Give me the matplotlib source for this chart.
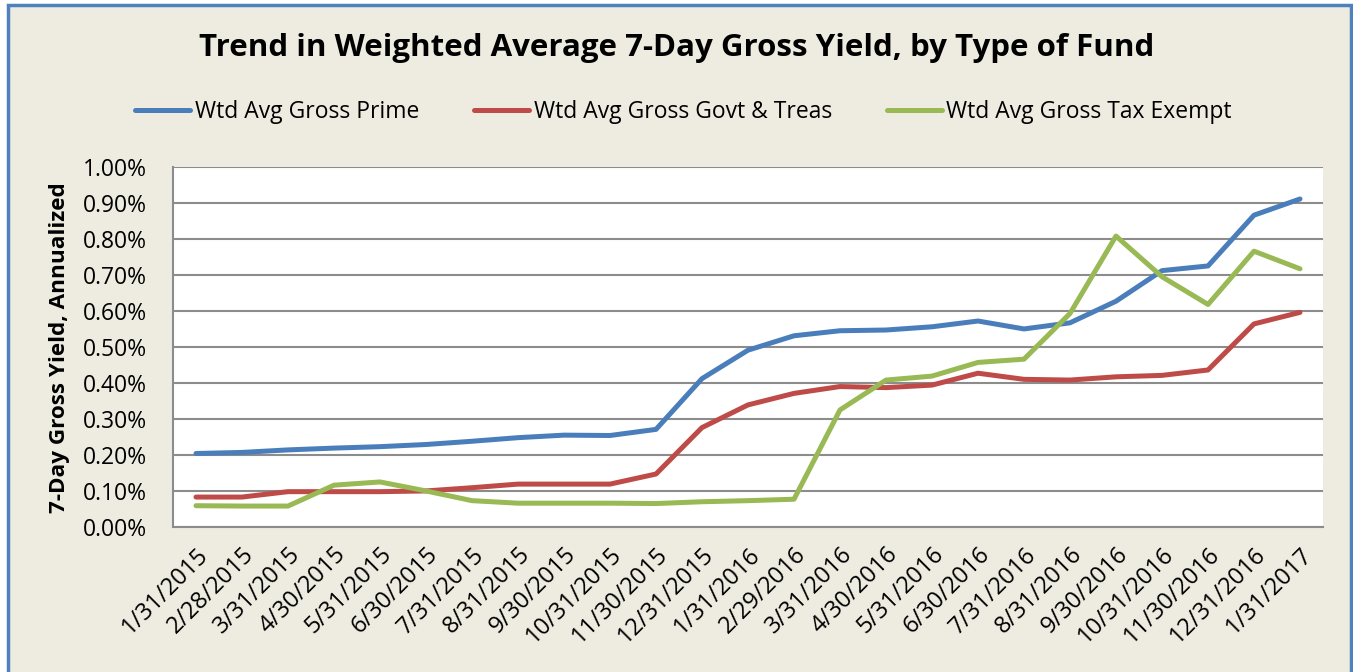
import matplotlib.pyplot as plt
from matplotlib.patches import Rectangle
from matplotlib.ticker import PercentFormatter

plt.rcParams['font.family'] = ['Open Sans', 'DejaVu Sans']

dates = ["1/31/2015", "2/28/2015", "3/31/2015", "4/30/2015", "5/31/2015",
         "6/30/2015", "7/31/2015", "8/31/2015", "9/30/2015", "10/31/2015",
         "11/30/2015", "12/31/2015", "1/31/2016", "2/29/2016", "3/31/2016",
         "4/30/2016", "5/31/2016", "6/30/2016", "7/31/2016", "8/31/2016",
         "9/30/2016", "10/31/2016", "11/30/2016", "12/31/2016", "1/31/2017"]

prime = [0.205, 0.208, 0.215, 0.220, 0.224, 0.230, 0.239, 0.249, 0.256, 0.255,
         0.272, 0.413, 0.492, 0.532, 0.546, 0.548, 0.557, 0.573, 0.551, 0.568,
         0.628, 0.713, 0.726, 0.867, 0.912]
govt = [0.084, 0.084, 0.099, 0.099, 0.099, 0.101, 0.110, 0.120, 0.120, 0.120,
        0.148, 0.277, 0.340, 0.372, 0.391, 0.388, 0.395, 0.428, 0.411, 0.409,
        0.418, 0.422, 0.437, 0.565, 0.597]
taxex = [0.060, 0.059, 0.059, 0.117, 0.126, 0.101, 0.074, 0.067, 0.067, 0.067,
         0.066, 0.071, 0.074, 0.078, 0.326, 0.409, 0.420, 0.458, 0.467, 0.594,
         0.809, 0.696, 0.619, 0.767, 0.718]

bg = '#EEECE1'
fig = plt.figure(figsize=(13.53, 6.72), dpi=100)
fig.patch.set_facecolor('white')
fig.patches.append(Rectangle((7.5 / 1353, -0.05), (1351 - 7.5) / 1353, 1.05 - 4.5 / 672,
                             transform=fig.transFigure, facecolor=bg,
                             edgecolor='#4F81BD', linewidth=2.5, zorder=-10))

ax = fig.add_axes([173 / 1353, 1 - 527.3 / 672, 1150 / 1353, 360 / 672])
x = list(range(len(dates)))
ax.plot(x, prime, color='#4A7EBB', lw=3.6, label='Wtd Avg Gross Prime', solid_capstyle='round')
ax.plot(x, govt, color='#BE4B48', lw=3.6, label='Wtd Avg Gross Govt & Treas', solid_capstyle='round')
ax.plot(x, taxex, color='#98B954', lw=3.6, label='Wtd Avg Gross Tax Exempt', solid_capstyle='round')

ax.set_xlim(-0.5, len(dates) - 0.5)
ax.set_ylim(0, 1.0)
ax.set_yticks([i / 10 for i in range(11)])
ax.yaxis.set_major_formatter(PercentFormatter(decimals=2))
ax.grid(axis='y', color='#8C8C8C', lw=1.5)
ax.set_axisbelow(True)
for s in ['top', 'right']:
    ax.spines[s].set_visible(False)
for s in ['left', 'bottom']:
    ax.spines[s].set_color('#8C8C8C')
    ax.spines[s].set_linewidth(1.5)
ax.set_xticks(x)
ax.set_xticklabels(dates, rotation=45, ha='right', rotation_mode='anchor', fontsize=17)
ax.tick_params(axis='both', length=0)
ax.tick_params(axis='x', pad=11, labelsize=17)
ax.tick_params(axis='y', pad=19, labelsize=16.5)
ax.set_ylabel('7-Day Gross Yield, Annualized', fontsize=16.2, fontweight='bold', va='center')
ax.yaxis.set_label_coords(-0.099, 0.5)

fig.text(0.5, 1 - 48 / 672, 'Trend in Weighted Average 7-Day Gross Yield, by Type of Fund',
         ha='center', va='center', fontsize=22.5, fontweight='bold')
fig.legend(loc='center', bbox_to_anchor=(683.5 / 1353, 1 - 112 / 672), ncol=3, frameon=False,
           fontsize=16.5, handlelength=2.4, columnspacing=2.4, handletextpad=0.2)

fig.savefig('out.png', dpi=100, facecolor=fig.get_facecolor())
